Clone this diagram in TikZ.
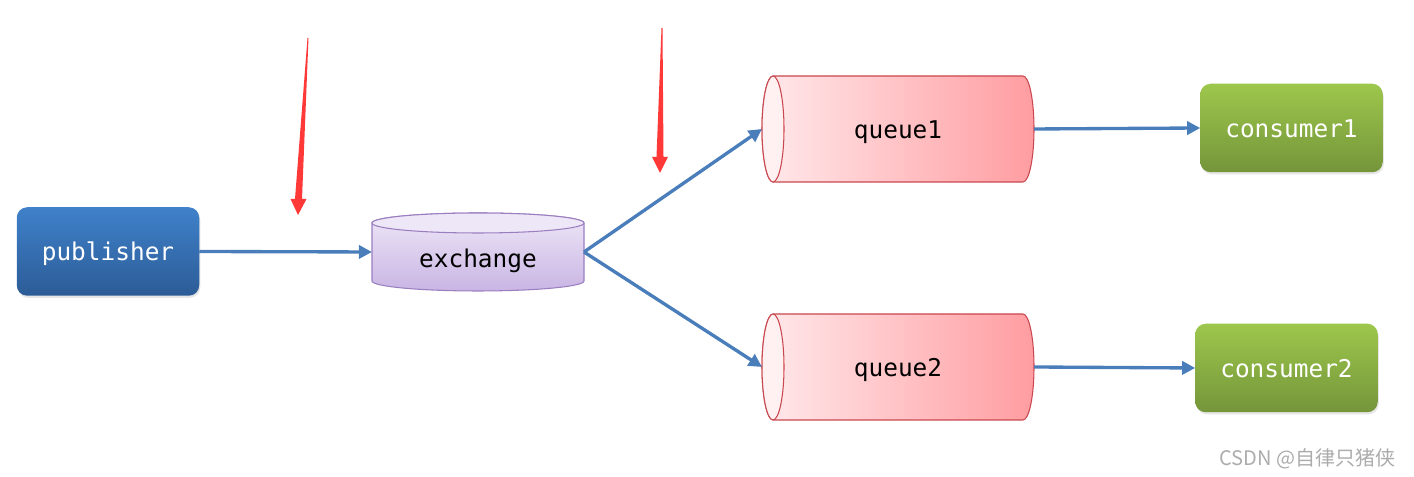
\documentclass[tikz,border=0pt]{standalone}
\usepackage{fontspec}
\setmonofont{DejaVu Sans Mono}
\newfontfamily\cjkfont{Noto Sans CJK SC}
\usetikzlibrary{arrows.meta,backgrounds,shadows}

\definecolor{flowblue}{HTML}{4A7EBB}
\definecolor{pubtop}{HTML}{3F81CA}
\definecolor{pubbot}{HTML}{2C5C97}
\definecolor{contop}{HTML}{9DC74C}
\definecolor{conbot}{HTML}{75953A}
\definecolor{extop}{HTML}{EEE7F7}
\definecolor{exbot}{HTML}{C9B5E4}
\definecolor{exline}{HTML}{9A7EC0}
\definecolor{qleft}{HTML}{FFE9EB}
\definecolor{qright}{HTML}{FF9DA1}
\definecolor{qend}{HTML}{FFF0F1}
\definecolor{qline}{HTML}{C9474E}
\definecolor{alertred}{HTML}{FF3838}

\begin{document}
\begin{tikzpicture}[
    every node/.style={font=\ttfamily\fontsize{13.9}{16}\selectfont, inner sep=2pt, outer sep=0pt,
        text height=13.9pt, text depth=3.3pt},
    box/.style={rounded corners=6pt, minimum width=3.65cm, minimum height=1.77cm, text=white,
        drop shadow={opacity=0.2, shadow xshift=0.6pt, shadow yshift=-1.2pt}},
    flow/.style={draw=flowblue, line width=1.9pt, -{Triangle[length=7.5pt, width=7.5pt]}}
]

    \useasboundingbox (0,0) rectangle (28.28,9.54);

    % Parameters
    \def\qrx{0.22}
    \def\qry{1.06}
    \def\erx{2.12}
    \def\ery{0.2}

    % =====================================================
    % Nodes
    % =====================================================
    \node[box, top color=pubtop, bottom color=pubbot] (publisher) at (2.16,4.51) {publisher};

    \node[minimum width=4.24cm, minimum height=1.56cm, text height=21.4pt] (exchange) at (9.56,4.5) {exchange};

    \node[minimum width=5.44cm, minimum height=2.12cm] (queue1) at (17.96,6.96) {queue1};
    \node[minimum width=5.44cm, minimum height=2.12cm] (queue2) at (17.96,2.2) {queue2};

    \node[box, top color=contop, bottom color=conbot] (consumer1) at (25.83,6.98) {consumer1};
    \node[box, top color=contop, bottom color=conbot] (consumer2) at (25.73,2.18) {consumer2};

    % =====================================================
    % Cylinders
    % =====================================================
    \begin{scope}[on background layer]

        \shadedraw[top color=extop, bottom color=exbot, draw=exline, line width=0.6pt]
            ([yshift=-\ery cm]exchange.north west) -- ([yshift=\ery cm]exchange.south west)
            arc[start angle=180, end angle=360, x radius=\erx cm, y radius=\ery cm]
            -- ([yshift=-\ery cm]exchange.north east)
            arc[start angle=0, end angle=180, x radius=\erx cm, y radius=\ery cm] -- cycle;
        \filldraw[fill=extop, draw=exline, line width=0.6pt]
            ([yshift=-\ery cm]exchange.north) ellipse[x radius=\erx cm, y radius=\ery cm];

        \foreach \q in {queue1,queue2} {
            \shadedraw[left color=qleft, right color=qright, draw=qline, line width=0.6pt]
                ([xshift=\qrx cm]\q.north west) -- ([xshift=-\qrx cm]\q.north east)
                arc[start angle=90, end angle=-90, x radius=\qrx cm, y radius=\qry cm]
                -- ([xshift=\qrx cm]\q.south west)
                arc[start angle=270, end angle=90, x radius=\qrx cm, y radius=\qry cm] -- cycle;
            \filldraw[fill=qend, draw=qline, line width=0.6pt]
                ([xshift=\qrx cm]\q.west) ellipse[x radius=\qrx cm, y radius=\qry cm];
        }

    \end{scope}

    % =====================================================
    % Connectors
    % =====================================================
    \draw[flow] (publisher.east) -- (exchange.west);
    \draw[flow] (exchange.east) -- (queue1.west);
    \draw[flow] (exchange.east) -- (queue2.west);
    \draw[flow] (queue1.east) -- (consumer1.west);
    \draw[flow] (queue2.east) -- (consumer2.west);

    % =====================================================
    % Red marks
    % =====================================================
    \fill[alertred] (6.15,8.78) -- (6.17,8.78) -- (6.04,5.56) -- (6.13,5.56) -- (5.96,5.24)
        -- (5.81,5.56) -- (5.90,5.56) -- cycle;
    \fill[alertred] (13.23,8.98) -- (13.25,8.98) -- (13.27,6.40) -- (13.36,6.40) -- (13.20,6.08)
        -- (13.04,6.40) -- (13.13,6.40) -- cycle;

    \node[font=\cjkfont\fontsize{11.4}{13}\selectfont, text=gray!65, anchor=east, text height=, text depth=] (mark) at (27.98,0.36) {CSDN @自律只猪侠};

\end{tikzpicture}
\end{document}
